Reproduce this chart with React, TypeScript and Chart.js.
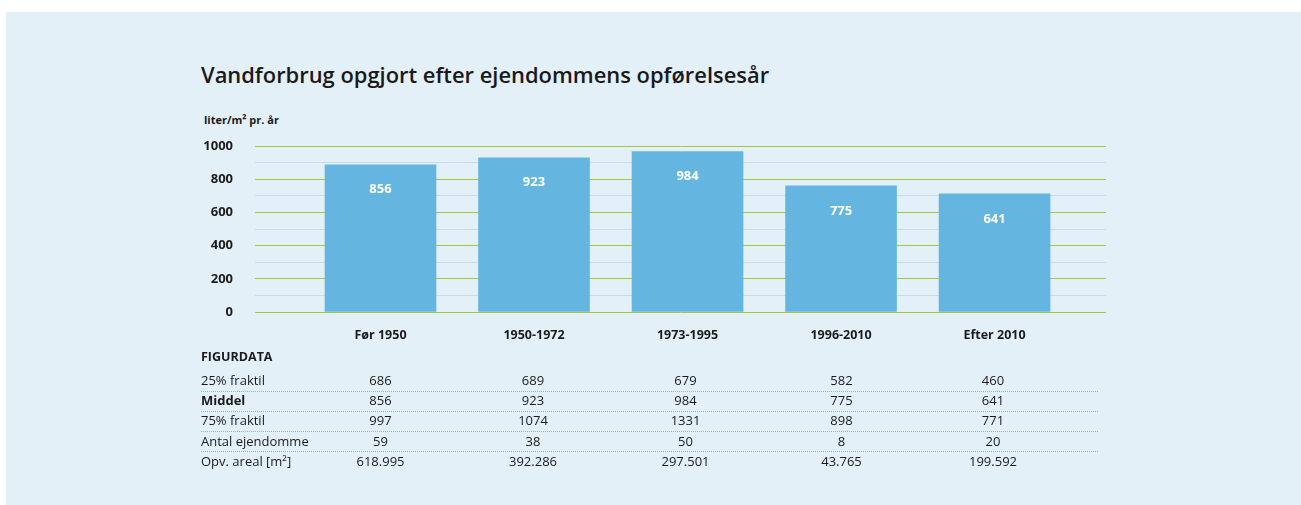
import React, { useEffect, useRef } from "react";
import { Chart, registerables } from "chart.js";

Chart.register(...registerables);

// ---- data ----
const categories = ["Før 1950", "1950-1972", "1973-1995", "1996-2010", "Efter 2010"];
// bar heights as drawn in the picture
const barHeights = [887, 929, 966, 760, 712];
// value labels printed inside the bars
const barLabels = ["856", "923", "984", "775", "641"];
const yTicks = [0, 200, 400, 600, 800, 1000];
const yGridValues = [0, 100, 200, 300, 400, 500, 600, 700, 800, 900, 1000];

const rowLabels = ["25% fraktil", "Middel", "75% fraktil", "Antal ejendomme", "Opv. areal [m²]"];
const fraktil25 = ["686", "689", "679", "582", "460"];
const middel = ["856", "923", "984", "775", "641"];
const fraktil75 = ["997", "1074", "1331", "898", "771"];
const antal = ["59", "38", "50", "8", "20"];
const areal = ["618.995", "392.286", "297.501", "43.765", "199.592"];

const title = "Vandforbrug opgjort efter ejendommens opførelsesår";
const yUnit = "liter/m² pr. år";

const FONT = "'Open Sans', 'Noto Sans', sans-serif";
const GREEN = "#a3c93a";
const LIGHTBLUE = "#c6dcee";
const BAR = "#64b6e1";
const TEXT = "#1b1b1b";

const colCenters = [380.5, 533, 685.5, 841.5, 993];

export default function App() {
  const ref = useRef<HTMLCanvasElement | null>(null);

  useEffect(() => {
    document.body.style.margin = "0";
    const canvas = ref.current;
    if (!canvas) return;

    const labelPlugin = {
      id: "barLabels",
      afterDatasetsDraw(chart: any) {
        const ctx = chart.ctx;
        const meta = chart.getDatasetMeta(0);
        ctx.save();
        ctx.fillStyle = "#ffffff";
        ctx.font = `700 13px ${FONT}`;
        ctx.textAlign = "center";
        ctx.textBaseline = "middle";
        meta.data.forEach((el: any, i: number) => {
          ctx.fillText(barLabels[i], el.x, el.y + 25);
        });
        ctx.restore();
      },
    };

    const gridColors = yGridValues.map((v) => (yTicks.includes(v) ? GREEN : LIGHTBLUE));

    const chart = new Chart(canvas, {
      type: "bar",
      data: {
        datasets: [
          {
            data: barHeights.map((v, i) => ({ x: i, y: v })),
            backgroundColor: BAR,
            borderWidth: 0,
            barThickness: 111,
          },
        ],
      },
      options: {
        animation: false,
        responsive: false,
        layout: { padding: { left: 195, right: 195, top: 146, bottom: 153 } },
        plugins: { legend: { display: false }, tooltip: { enabled: false }, title: { display: false } },
        scales: {
          x: {
            type: "linear",
            offset: false,
            bounds: "data",
            min: -0.8176,
            max: 4.726,
            grid: { display: false, offset: false },
            border: { display: false },
            afterBuildTicks: (scale: any) => {
              scale.ticks = categories.map((_, i) => ({ value: i }));
            },
            afterFit: (scale: any) => {
              scale.height = 40;
            },
            ticks: {
              autoSkip: false,
              maxRotation: 0,
              padding: 8,
              color: TEXT,
              font: { family: FONT, size: 12.5, weight: "bold" },
              callback: (v: any) => categories[v as number] ?? "",
            },
          },
          y: {
            min: 0,
            max: 1000,
            afterBuildTicks: (scale: any) => {
              scale.ticks = yGridValues.map((v) => ({ value: v }));
            },
            afterFit: (scale: any) => {
              scale.width = 60;
            },
            border: { display: false },
            grid: {
              drawTicks: false,
              lineWidth: 1,
              color: gridColors,
            },
            ticks: {
              autoSkip: false,
              padding: 22,
              color: TEXT,
              font: { family: FONT, size: 13, weight: "bold" },
              callback: (v: any) => (yTicks.includes(v as number) ? String(v) : ""),
            },
          },
        },
      },
      plugins: [labelPlugin],
    });
    return () => chart.destroy();
  }, []);

  const rows = [fraktil25, middel, fraktil75, antal, areal];
  const rowCenter0 = 380.7;
  const rowStep = 20.33;

  return (
    <div style={{ position: "relative", width: 1301, height: 505, background: "#ffffff", overflow: "hidden", fontFamily: FONT, color: TEXT }}>
      <div style={{ position: "absolute", left: 6, top: 12, width: 1295, height: 493, background: "#e4f0f8" }} />
      <div
        style={{
          position: "absolute",
          left: 201,
          top: 83.3 - 21.9 * 0.888,
          fontSize: 21.9,
          lineHeight: "21.9px",
          fontWeight: 600,
          whiteSpace: "nowrap",
          color: "#1a1a1a",
        }}
      >
        {title}
      </div>
      <div
        style={{
          position: "absolute",
          left: 204,
          top: 123.3 - 11 * 0.888,
          fontSize: 11,
          lineHeight: "11px",
          fontWeight: 700,
          whiteSpace: "nowrap",
        }}
      >
        {yUnit}
      </div>
      <canvas ref={ref} width={1301} height={505} style={{ position: "absolute", left: 0, top: 0, width: 1301, height: 505 }} />
      <div
        style={{
          position: "absolute",
          left: 201,
          top: 358 - 12.5 * 0.531,
          fontSize: 12.5,
          lineHeight: "12.5px",
          fontWeight: 700,
          whiteSpace: "nowrap",
        }}
      >
        FIGURDATA
      </div>
      {rowLabels.map((lab, r) => {
        const c = rowCenter0 + r * rowStep;
        const top = c - 13 * 0.531;
        return (
          <React.Fragment key={lab}>
            <div
              style={{
                position: "absolute",
                left: 201,
                top,
                fontSize: 13,
                lineHeight: "13px",
                fontWeight: r === 1 ? 700 : 400,
                whiteSpace: "nowrap",
              }}
            >
              {lab}
            </div>
            {rows[r].map((v, i) => (
              <div
                key={i}
                style={{
                  position: "absolute",
                  left: colCenters[i] - 60,
                  width: 120,
                  top,
                  fontSize: 13,
                  lineHeight: "13px",
                  textAlign: "center",
                  whiteSpace: "nowrap",
                }}
              >
                {v}
              </div>
            ))}
            {r < rowLabels.length - 1 && (
              <div
                style={{
                  position: "absolute",
                  left: 201,
                  top: Math.round(c + 9.8),
                  width: 897,
                  height: 0,
                  borderTop: `1px dotted #a2cc22`,
                }}
              />
            )}
          </React.Fragment>
        );
      })}
    </div>
  );
}
